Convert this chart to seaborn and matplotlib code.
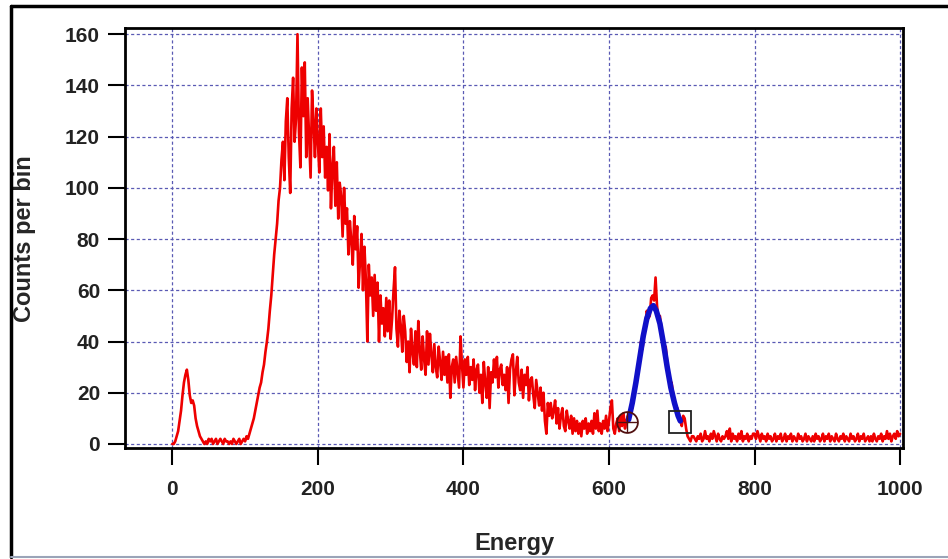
import numpy as np
import pandas as pd
import matplotlib
matplotlib.use("Agg")
import matplotlib.pyplot as plt
import seaborn as sns

# Measured spectrum: counts per 2-unit energy bin, from 0 to 1000 (20 bins per row)
counts = [
    0, 0, 1, 3, 5, 9, 13, 19, 24, 27, 29, 25, 19, 16, 17, 15, 10, 7, 5, 3,
    2, 1, 0, 1, 0, 2, 1, 2, 0, 1, 2, 0, 1, 2, 1, 0, 2, 1, 1, 0,
    1, 0, 2, 1, 0, 1, 2, 0, 1, 2, 1, 3, 2, 4, 6, 8, 10, 13, 16, 19,
    22, 24, 28, 31, 36, 40, 45, 52, 58, 66, 74, 80, 86, 95, 100, 111, 118, 103, 126, 135,
    112, 98, 131, 143, 118, 127, 160, 122, 108, 147, 128, 149, 112, 135, 120, 104, 138, 126, 112, 131,
    118, 106, 131, 112, 124, 104, 116, 99, 121, 92, 108, 116, 93, 110, 88, 102, 97, 81, 100, 86,
    92, 74, 87, 79, 70, 89, 76, 85, 61, 72, 82, 60, 77, 64, 40, 70, 58, 65, 50, 66,
    52, 63, 40, 58, 47, 53, 42, 57, 44, 56, 41, 49, 60, 69, 45, 38, 52, 46, 36, 50,
    44, 32, 40, 28, 45, 36, 31, 44, 30, 48, 37, 29, 42, 33, 27, 44, 31, 43, 35, 28,
    39, 30, 26, 38, 32, 25, 36, 27, 34, 24, 35, 18, 30, 33, 24, 34, 28, 22, 42, 31,
    22, 33, 27, 34, 23, 30, 25, 33, 21, 29, 31, 20, 27, 16, 32, 24, 18, 30, 14, 28,
    24, 33, 26, 34, 22, 29, 31, 23, 27, 21, 30, 16, 29, 33, 35, 19, 28, 34, 24, 21,
    29, 18, 27, 23, 30, 17, 25, 26, 19, 14, 25, 20, 15, 22, 13, 20, 9, 4, 16, 11,
    16, 10, 13, 17, 8, 14, 6, 11, 14, 7, 5, 13, 9, 6, 11, 4, 10, 5, 9, 4,
    8, 3, 9, 6, 10, 4, 8, 5, 9, 4, 12, 6, 13, 5, 8, 4, 9, 6, 11, 5,
    9, 14, 17, 6, 4, 8, 10, 5, 11, 7, 12, 6, 9, 11, 10, 13, 14, 19, 22, 25,
    28, 34, 40, 37, 42, 47, 52, 49, 50, 57, 58, 56, 65, 54, 49, 50, 45, 41, 36, 38,
    32, 28, 22, 24, 20, 16, 13, 14, 12, 9, 7, 11, 10, 6, 3, 2, 1, 3, 3, 2,
    1, 3, 2, 4, 1, 2, 5, 2, 3, 1, 4, 2, 5, 3, 1, 4, 2, 1, 3, 2,
    3, 5, 2, 6, 1, 4, 2, 3, 1, 4, 2, 5, 1, 3, 2, 4, 1, 3, 2, 4,
    4, 2, 5, 3, 1, 4, 2, 3, 1, 4, 2, 3, 1, 2, 4, 1, 3, 2, 4, 1,
    2, 4, 1, 3, 2, 4, 1, 3, 2, 1, 4, 2, 3, 1, 2, 4, 1, 3, 2, 1,
    3, 1, 4, 2, 3, 1, 2, 4, 1, 3, 2, 4, 1, 3, 2, 1, 4, 2, 1, 3,
    2, 4, 1, 3, 2, 1, 4, 2, 3, 1, 2, 4, 1, 3, 2, 4, 1, 2, 3, 1,
    3, 1, 4, 2, 1, 3, 2, 4, 1, 3, 2, 5, 2, 4, 1, 3, 4, 2, 5, 3,
    4,
]
bin_width = 2
energy = np.arange(len(counts)) * bin_width

# Fitted photopeak curve over the region of interest
fit_energy = [627, 632, 637, 642, 647, 652, 657, 661, 665, 670, 675, 680, 685, 690, 695, 698]
fit_counts = [9.5, 16, 24, 33, 42, 49, 53, 54, 52, 47, 39, 30, 22, 16, 11, 9]

# Region-of-interest boundary markers
roi_start = (624.5, 8.4)
roi_end = (697.8, 8.6)

x_ticks = [0, 200, 400, 600, 800, 1000]
y_ticks = [0, 20, 40, 60, 80, 100, 120, 140, 160]

sns.set_style("white")
plt.rcParams["font.family"] = ["Liberation Sans", "DejaVu Sans"]

fig = plt.figure(figsize=(9.48, 5.59), dpi=100)
ax = fig.add_axes([0.13186, 0.19803, 0.82067, 0.75134])
ax.set_facecolor("white")

spec = pd.DataFrame({"Energy": energy, "Counts": counts})
fit = pd.DataFrame({"Energy": fit_energy, "Counts": fit_counts})

sns.lineplot(data=spec, x="Energy", y="Counts", ax=ax, color="#ee0000",
             linewidth=1.9, estimator=None, sort=False, zorder=3)
sns.lineplot(data=fit, x="Energy", y="Counts", ax=ax, color="#1010c8",
             linewidth=4, estimator=None, sort=False, zorder=4)

ax.plot([roi_start[0]], [roi_start[1]], marker="o", markersize=15,
        markerfacecolor="none", markeredgecolor="#501010", markeredgewidth=1.3,
        linestyle="none", zorder=5)
ax.plot([roi_start[0]], [roi_start[1]], marker="+", markersize=15,
        markeredgecolor="#501010", markeredgewidth=1.0, linestyle="none", zorder=5)
ax.plot([roi_end[0]], [roi_end[1]], marker="s", markersize=16,
        markerfacecolor="none", markeredgecolor="#202020", markeredgewidth=1.3,
        linestyle="none", zorder=5)

ax.set_xlim(-65, 1004)
ax.set_ylim(-1.7, 162.3)
ax.set_xticks(x_ticks)
ax.set_yticks(y_ticks)

ax.grid(True, color="#5a5ab4", linestyle=(0, (2.5, 2)), linewidth=0.9)
ax.set_axisbelow(True)

for side in ["left", "right", "top", "bottom"]:
    ax.spines[side].set_visible(True)
    ax.spines[side].set_color("black")
    ax.spines[side].set_linewidth(2.0)

ax.tick_params(axis="both", which="major", direction="out", length=12,
               width=1.5, color="black", labelsize=15, labelcolor="#222222",
               bottom=True, left=True, top=False, right=False)
ax.tick_params(axis="x", pad=11)
ax.tick_params(axis="y", pad=6)
for lab in ax.get_xticklabels() + ax.get_yticklabels():
    lab.set_fontweight("bold")

ax.set_xlabel("Energy", fontsize=17, fontweight="bold")
ax.set_ylabel("Counts per bin", fontsize=17, fontweight="bold")
ax.xaxis.set_label_coords(0.5, -0.2)
ax.yaxis.set_label_coords(-0.114, 0.5)

# Outer frame of the figure
fig.add_artist(plt.Line2D([11 / 948, 11 / 948], [1 - 6 / 559, 1 - 557 / 559],
                          transform=fig.transFigure, color="black", linewidth=2.5))
fig.add_artist(plt.Line2D([11 / 948, 1.0], [1 - 6 / 559, 1 - 6 / 559],
                          transform=fig.transFigure, color="black", linewidth=2.5))
fig.add_artist(plt.Line2D([11 / 948, 1.0], [1 - 557 / 559, 1 - 557 / 559],
                          transform=fig.transFigure, color="#9aa4b8", linewidth=1.5))

fig.savefig("out.png", dpi=100)
